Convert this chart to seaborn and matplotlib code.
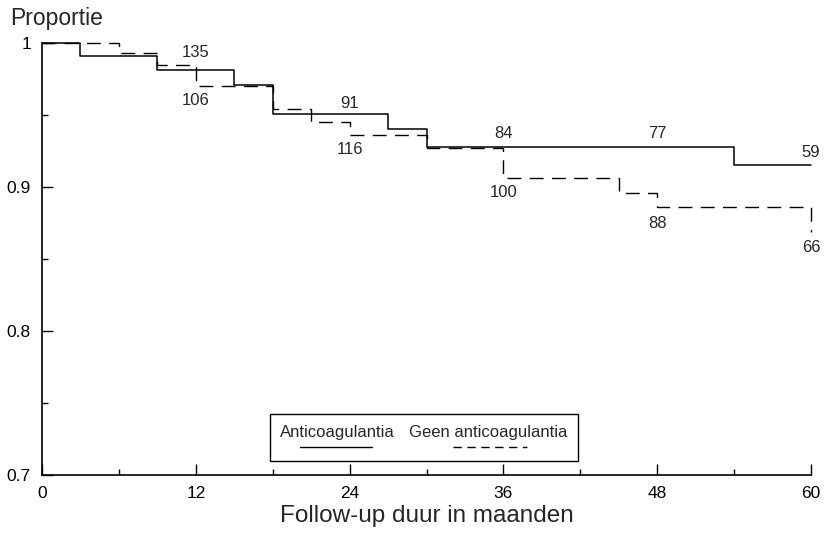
import matplotlib
matplotlib.use("Agg")
import matplotlib.pyplot as plt
import seaborn as sns
import pandas as pd
from matplotlib.patches import Rectangle
from matplotlib.lines import Line2D
from matplotlib.ticker import MultipleLocator

# Kaplan-Meier step data (months, proportion)
anti_months = [0, 3, 9, 15, 18, 27, 30, 54, 60]
anti_surv = [1.0, 0.991, 0.981, 0.971, 0.951, 0.940, 0.928, 0.915, 0.915]

geen_months = [0, 6, 9, 12, 18, 21, 24, 30, 36, 45, 48, 60]
geen_surv = [1.0, 0.993, 0.985, 0.970, 0.954, 0.945, 0.936, 0.927, 0.906, 0.896, 0.886, 0.869]

# numbers at risk
risk_months = [12, 24, 36, 48, 60]
risk_anti = [135, 91, 84, 77, 59]
risk_geen = [106, 116, 100, 88, 66]
risk_anti_y = [0.9934, 0.958, 0.937, 0.937, 0.924]
risk_geen_y = [0.960, 0.926, 0.896, 0.875, 0.858]

x_ticks = [0, 12, 24, 36, 48, 60]
y_ticks = [0.7, 0.8, 0.9, 1.0]
y_ticklabels = ["0.7", "0.8", "0.9", "1"]

sns.set_style("ticks")
plt.rcParams["font.family"] = ["Liberation Sans", "DejaVu Sans"]

fig = plt.figure(figsize=(8.27, 5.35), dpi=100)
ax = fig.add_axes([0.0508, 0.1121, 0.9299, 0.8075])

df_a = pd.DataFrame({"m": anti_months, "p": anti_surv})
df_g = pd.DataFrame({"m": geen_months, "p": geen_surv})

sns.lineplot(data=df_a, x="m", y="p", ax=ax, estimator=None, drawstyle="steps-post",
             color="black", linewidth=1.1, clip_on=False)
sns.lineplot(data=df_g, x="m", y="p", ax=ax, estimator=None, drawstyle="steps-post",
             color="black", linewidth=1.0, dashes=False, clip_on=False)
ax.lines[1].set_dashes((10, 6))

for m, n, y in zip(risk_months, risk_anti, risk_anti_y):
    ax.text(m, y, str(n), ha="center", va="center", fontsize=12, clip_on=False)
for m, n, y in zip(risk_months, risk_geen, risk_geen_y):
    ax.text(m, y, str(n), ha="center", va="center", fontsize=12, clip_on=False)

ax.set_xlim(0, 60)
ax.set_ylim(0.7, 1.0)
ax.set_xticks(x_ticks)
ax.xaxis.set_minor_locator(MultipleLocator(6))
ax.set_yticks(y_ticks)
ax.set_yticklabels(y_ticklabels)
ax.yaxis.set_minor_locator(MultipleLocator(0.05))
ax.tick_params(axis="both", which="major", direction="in", length=8, width=1.0,
               labelsize=12.5, color="black", labelcolor="black")
ax.tick_params(axis="both", which="minor", direction="in", length=4, width=1.0, color="black")
ax.tick_params(axis="x", which="major", pad=8)
ax.tick_params(axis="y", which="major", pad=8)

for s in ["top", "right"]:
    ax.spines[s].set_visible(False)
for s in ["left", "bottom"]:
    ax.spines[s].set_linewidth(1.2)
    ax.spines[s].set_color("black")

ax.set_xlabel("Follow-up duur in maanden", fontsize=17.5, labelpad=3)
ax.set_ylabel("")
fig.text(10 / 827, 1 - 25 / 535, "Proportie", fontsize=16.5, ha="left", va="baseline")

# legend box: labels above line samples
box = Rectangle((0.2965, 0.0324), 0.4005, 0.1086, transform=ax.transAxes,
                fill=False, edgecolor="black", linewidth=1.0)
ax.add_patch(box)
ax.text(0.3836, 0.0995, "Anticoagulantia", transform=ax.transAxes,
        ha="center", va="center", fontsize=12)
ax.text(0.5806, 0.0995, "Geen anticoagulantia", transform=ax.transAxes,
        ha="center", va="center", fontsize=12)
ax.add_line(Line2D([0.3355, 0.4291], [0.0648, 0.0648], transform=ax.transAxes,
                   color="black", linewidth=1.0))
ax.add_line(Line2D([0.5345, 0.6307], [0.0648, 0.0648], transform=ax.transAxes,
                   color="black", linewidth=1.0, dashes=(6, 4)))

fig.savefig("out.png", dpi=100, facecolor="white")
